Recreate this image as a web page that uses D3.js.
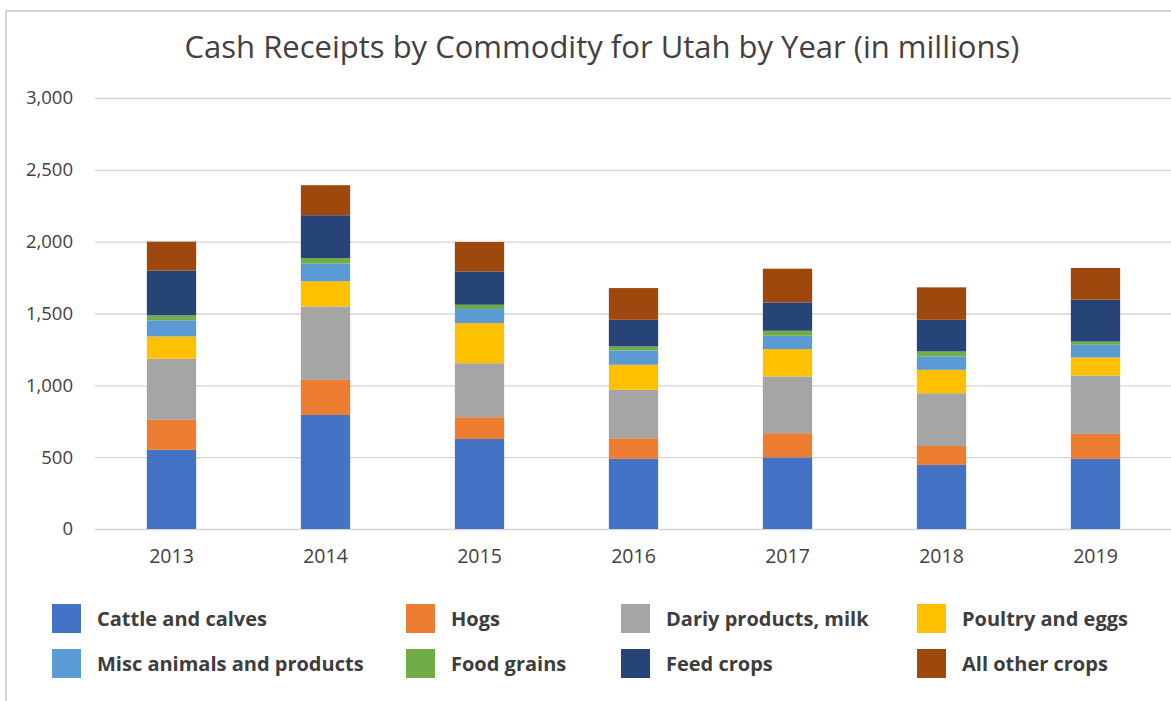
<!DOCTYPE html>
<html>
<head>
<meta charset="utf-8">
<script src="https://cdn.jsdelivr.net/npm/d3@7/dist/d3.min.js"></script>
<style>
  html, body { margin: 0; padding: 0; background: #fff; }
  svg { display: block; }
</style>
</head>
<body>
<svg id="chart" width="1171" height="701"></svg>
<script>
// Utah cash receipts by commodity, millions of dollars
const years = ["2013", "2014", "2015", "2016", "2017", "2018", "2019"];
const commodities = [
  "Cattle and calves", "Hogs", "Dariy products, milk", "Poultry and eggs",
  "Misc animals and products", "Food grains", "Feed crops", "All other crops"
];
const cattle  = [551, 794, 627, 488, 499, 446, 488];
const hogs    = [209, 244, 151, 144, 168, 132, 174];
const dairy   = [425, 511, 376, 337, 395, 367, 407];
const poultry = [155, 175, 279, 174, 190, 163, 125];
const misc    = [112, 123,  98, 100,  93,  93,  88];
const grains  = [ 35,  39,  30,  28,  35,  35,  23];
const feed    = [311, 298, 232, 185, 197, 220, 291];
const other   = [202, 209, 205, 221, 235, 226, 221];
const yTicks  = [0, 500, 1000, 1500, 2000, 2500, 3000];
const colors  = ["#4472C4", "#ED7D31", "#A5A5A5", "#FFC000", "#5B9BD5", "#70AD47", "#264478", "#9E480E"];

const seriesValues = [cattle, hogs, dairy, poultry, misc, grains, feed, other];
const rows = years.map((yr, i) => {
  const r = { year: yr };
  commodities.forEach((c, k) => { r[c] = seriesValues[k][i]; });
  return r;
});

const svg = d3.select("#chart");
const font = "'Open Sans', 'Noto Sans', sans-serif";

// chart frame (left and top edges)
svg.append("path")
  .attr("d", "M6,701 V11 H1171")
  .attr("fill", "none")
  .attr("stroke", "#d4d4d4")
  .attr("stroke-width", 2);

const x = d3.scaleBand()
  .domain(years)
  .range([94.5, 1172.5])
  .paddingInner(0.68)
  .paddingOuter(0.34);

const y = d3.scaleLinear()
  .domain([0, 3000])
  .range([529, 98]);

// gridlines
svg.append("g")
  .call(d3.axisLeft(y).tickValues(yTicks).tickSize(-(1171 - 95)).tickFormat(""))
  .call(g => g.select(".domain").remove())
  .call(g => g.selectAll("line").attr("stroke", "#d9d4d2").attr("stroke-width", 1.3)
    .attr("transform", "translate(95,0)"));

// y tick labels
svg.append("g")
  .attr("transform", "translate(73,0)")
  .call(d3.axisLeft(y).tickValues(yTicks).tickSize(0).tickPadding(0).tickFormat(d3.format(",")))
  .call(g => g.select(".domain").remove())
  .call(g => g.selectAll("text")
    .attr("font-family", font).attr("font-size", 18.5).attr("fill", "#454040"));

// stacked bars
const stack = d3.stack().keys(commodities)(rows);
svg.append("g")
  .selectAll("g")
  .data(stack)
  .join("g")
  .attr("fill", (d, i) => colors[i])
  .selectAll("rect")
  .data(d => d)
  .join("rect")
  .attr("x", d => x(d.data.year))
  .attr("width", x.bandwidth())
  .attr("y", d => y(d[1]))
  .attr("height", d => y(d[0]) - y(d[1]));

// x axis labels
svg.append("g")
  .attr("transform", "translate(0,549)")
  .call(d3.axisBottom(x).tickSize(0).tickPadding(0))
  .call(g => g.select(".domain").remove())
  .call(g => g.selectAll("text")
    .attr("font-family", font).attr("font-size", 19.5).attr("fill", "#454040"));

// title
svg.append("text")
  .attr("x", 602)
  .attr("y", 58)
  .attr("text-anchor", "middle")
  .attr("font-family", font)
  .attr("font-size", 31)
  .attr("fill", "#454040")
  .text("Cash Receipts by Commodity for Utah by Year (in millions)");

// legend
const legX = [52, 406, 621, 917];
const legY = [604, 649];
const legend = svg.append("g");
commodities.forEach((c, i) => {
  const col = i % 4, row = Math.floor(i / 4);
  const g = legend.append("g").attr("transform", `translate(${legX[col]},${legY[row]})`);
  g.append("rect").attr("width", 29).attr("height", 29).attr("fill", colors[i]);
  g.append("text")
    .attr("x", 45).attr("y", 21.5)
    .attr("font-family", font)
    .attr("font-weight", 700)
    .attr("font-size", 20)
    .attr("fill", "#3d3d3d")
    .text(c);
});
</script>
</body>
</html>
